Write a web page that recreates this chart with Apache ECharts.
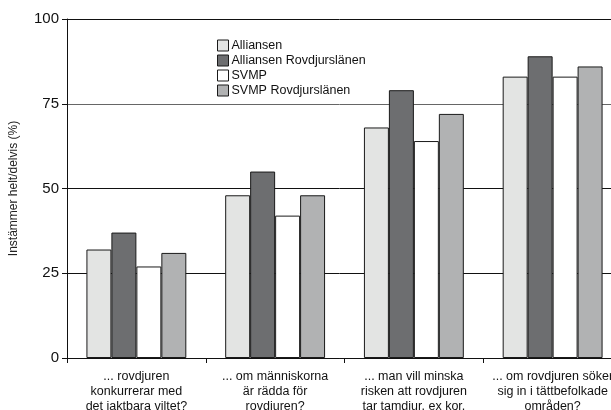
<!DOCTYPE html>
<html>
<head>
<meta charset="utf-8">
<script src="https://cdn.jsdelivr.net/npm/echarts@6/dist/echarts.min.js"></script>
<style>
    html, body { margin: 0; padding: 0; background: #fff; }
    #chart { width: 611px; height: 410px; }
</style>
</head>
<body>
<div id="chart"></div>
<script>
    // Frågekategorier (x-axeln)
    var categories = [
        '... rovdjuren\nkonkurrerar med\ndet jaktbara viltet?',
        '... om människorna\när rädda för\nrovdjuren?',
        '... man vill minska\nrisken att rovdjuren\ntar tamdjur, ex kor,',
        '... om rovdjuren söker\nsig in i tättbefolkade\nområden?'
    ];
    var seriesNames = ['Alliansen', 'Alliansen Rovdjurslänen', 'SVMP', 'SVMP Rovdjurslänen'];
    var alliansen = [32, 48, 68, 83];
    var alliansenRovdjur = [37, 55, 79, 89];
    var svmp = [27, 42, 64, 83];
    var svmpRovdjur = [31, 48, 72, 86];
    var yTicks = [0, 25, 50, 75, 100];

    var colors = ['#e3e4e3', '#6d6e70', '#ffffff', '#b1b2b3'];
    var values = [alliansen, alliansenRovdjur, svmp, svmpRovdjur];

    var chart = echarts.init(document.getElementById('chart'));
    var font = 'Liberation Sans, Arial, Helvetica, sans-serif';

    var series = [];
    for (var i = 0; i < seriesNames.length; i++) {
        series.push({
            name: seriesNames[i],
            type: 'bar',
            data: values[i],
            barGap: 0,
            barCategoryGap: '28%',
            itemStyle: {color: colors[i], borderColor: '#1a1a1a', borderWidth: 1},
            z: 3
        });
    }

    var option = {
        animation: false,
        textStyle: {fontFamily: font},
        color: colors,
        // diagrammet fortsätter förbi högerkanten, som i originalet
        grid: {left: 67, top: 19, width: 555, height: 339, containLabel: false, outerBoundsMode: 'none'},
        legend: {
            orient: 'vertical',
            left: 212,
            top: 34,
            itemWidth: 11,
            itemHeight: 11,
            itemGap: 2,
            icon: 'rect',
            data: seriesNames,
            itemStyle: {borderColor: '#1a1a1a', borderWidth: 1},
            textStyle: {fontFamily: font, fontSize: 12.5, lineHeight: 13, color: '#111', padding: [0, 0, 0, -2]}
        },
        xAxis: {
            type: 'category',
            data: categories,
            axisLine: {lineStyle: {color: '#111', width: 1}},
            axisTick: {show: true, length: 5, lineStyle: {color: '#111'}},
            axisLabel: {
                fontFamily: font, fontSize: 12.5, color: '#111',
                lineHeight: 15, margin: 11, interval: 0
            }
        },
        yAxis: {
            type: 'value',
            min: yTicks[0],
            max: yTicks[yTicks.length - 1],
            interval: 25,
            name: 'Instämmer helt/delvis (%)',
            nameLocation: 'middle',
            nameGap: 47,
            nameTextStyle: {fontFamily: font, fontSize: 12, color: '#222'},
            axisLine: {show: true, lineStyle: {color: '#111', width: 1}},
            axisTick: {show: true, length: 5, lineStyle: {color: '#111'}},
            axisLabel: {fontFamily: font, fontSize: 15, color: '#111', margin: 8},
            splitLine: {show: true, lineStyle: {color: ['#111', '#111', '#111', '#666', '#111'], width: 1}}
        },
        series: series
    };
    chart.setOption(option);
</script>
</body>
</html>
